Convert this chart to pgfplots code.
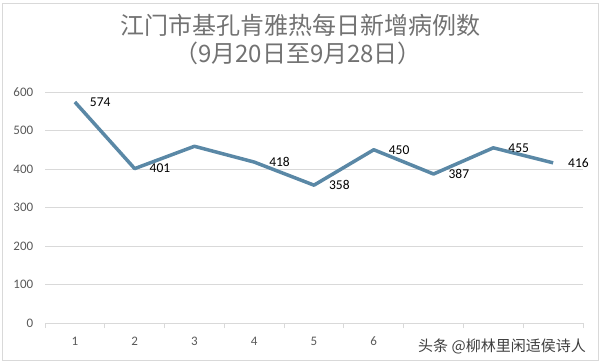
\documentclass[border=0pt]{standalone}
\usepackage{pgfplots}
\pgfplotsset{compat=1.18}
\usepackage{fontspec}
\setmainfont{Carlito}
\newfontfamily\cjk{Noto Sans CJK SC}
\definecolor{linec}{HTML}{5A88A6}
\definecolor{txtgray}{HTML}{595959}
\definecolor{gridc}{HTML}{D9D9D9}
\begin{document}
\begin{tikzpicture}[x=1pt,y=1pt]
\useasboundingbox (0,0) rectangle (602,362);
\draw[gridc,line width=0.6pt] (2,2) rectangle (598,359);
\begin{axis}[
  at={(45pt,39pt)}, anchor=south west,
  scale only axis, width=538pt, height=231pt,
  xmin=0.5, xmax=9.5, ymin=0, ymax=600,
  ytick={0,100,...,600},
  xtick={1,...,9},
  xticklabels={1,2,3,4,5,6,,,},
  minor xtick={0.5,1.5,...,9.5},
  major x tick style={draw=none},
  minor x tick style={draw=gridc, line width=0.8pt},
  minor tick length=5pt,
  tick align=outside,
  ymajorgrids, major grid style={gridc, line width=0.8pt},
  axis y line*=left,
  axis x line*=bottom,
  y axis line style={draw=none},
  x axis line style={gridc, line width=0.8pt, -},
  major y tick style={draw=none},
  ticklabel style={font=\fontsize{13}{15}\selectfont, text=txtgray},
  /pgf/number format/assume math mode=true,
  yticklabel style={xshift=-4pt},
  xticklabel style={yshift=-6pt},
  clip=false,
]
\addplot[linec, line width=3.5pt, line join=round,
  nodes near coords, point meta=explicit symbolic,
  every node near coord/.style={anchor=west, xshift=10pt, font=\fontsize{13.5}{15}\selectfont, text=black}]
  table[meta=lbl] {
x y lbl
1 574 574
2 401 401
3 459 {}
4 418 418
5 358 358
6 450 450
7 387 387
8 455 455
9 416 416
};
\end{axis}
\node[font=\cjk\fontsize{24}{28}\selectfont, text=txtgray!85] at (300,337) {江门市基孔肯雅热每日新增病例数};
\node[font=\cjk\fontsize{24}{28}\selectfont, text=txtgray!85] at (298,309) {（9月20日至9月28日）};
\node[font=\cjk\fontsize{15}{17}\selectfont, text=black!75, fill=white, inner sep=1pt, anchor=west] at (417,16) {头条 @柳林里闲适侯诗人};
\end{tikzpicture}
\end{document}
